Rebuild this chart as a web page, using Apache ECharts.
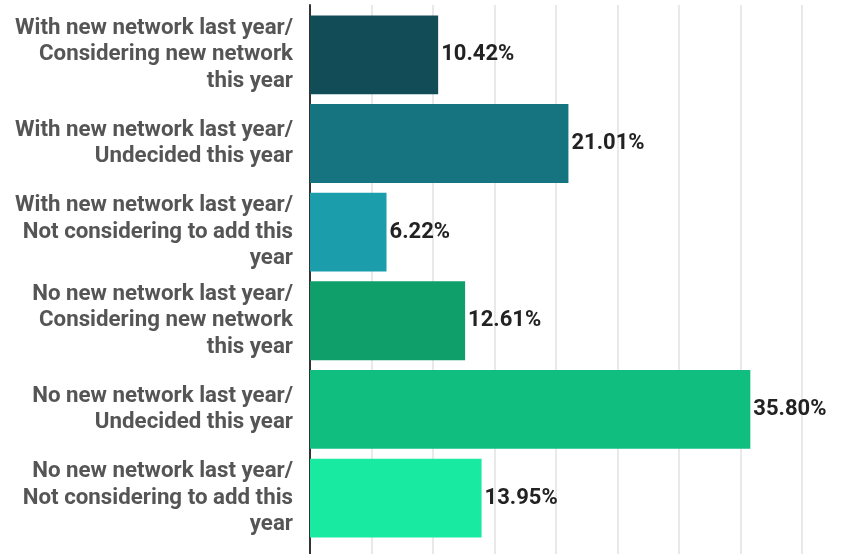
<!DOCTYPE html>
<html>
<head>
<meta charset="utf-8">
<script src="https://cdn.jsdelivr.net/npm/echarts@6/dist/echarts.min.js"></script>
<style>
  html, body { margin: 0; padding: 0; background: #fff; }
  #chart { width: 862px; height: 554px; }
</style>
</head>
<body>
<div id="chart"></div>
<script>
// Survey groups, listed top to bottom
const categories = [
  'With new network last year/\nConsidering new network\nthis year',
  'With new network last year/\nUndecided this year',
  'With new network last year/\nNot considering to add this\nyear',
  'No new network last year/\nConsidering new network\nthis year',
  'No new network last year/\nUndecided this year',
  'No new network last year/\nNot considering to add this\nyear'
];
// Share of respondents (%)
const shares = [10.42, 21.01, 6.22, 12.61, 35.80, 13.95];
const barColors = ['#124c56', '#15747f', '#1b9dab', '#0f9f6b', '#10bf7f', '#18eaa1'];
const axisMax = 40;
const axisStep = 5;

const chart = echarts.init(document.getElementById('chart'), null, { renderer: 'canvas' });

chart.setOption({
  animation: false,
  grid: [
    // bars
    { left: 310, right: 60, top: 10.5, bottom: 11.6 },
    // full-height frame for the gridlines and left axis line
    { left: 310, right: 60, top: 5, bottom: -2 }
  ],
  xAxis: [
    {
      gridIndex: 0, type: 'value', min: 0, max: axisMax, interval: axisStep,
      axisLine: { show: false }, axisTick: { show: false },
      axisLabel: { show: false }, splitLine: { show: false }
    },
    {
      gridIndex: 1, type: 'value', min: 0, max: axisMax, interval: axisStep,
      axisLine: { show: false }, axisTick: { show: false },
      axisLabel: { show: false },
      splitLine: { show: true, lineStyle: { color: '#e2e2e2', width: 1.5 } }
    }
  ],
  yAxis: [
    {
      gridIndex: 0, type: 'category', data: categories, inverse: true,
      axisLine: { show: false }, axisTick: { show: false },
      axisLabel: {
        margin: 17, color: '#555', fontFamily: 'Roboto', fontWeight: 'bold',
        fontSize: 22.3, lineHeight: 26.5, align: 'right'
      }
    },
    {
      gridIndex: 1, type: 'category', data: [''],
      axisLine: { show: true, lineStyle: { color: '#333', width: 2 } },
      axisTick: { show: false }, axisLabel: { show: false }
    }
  ],
  series: [{
    type: 'bar',
    xAxisIndex: 0, yAxisIndex: 0,
    data: shares.map((v, i) => ({ value: v, itemStyle: { color: barColors[i] } })),
    barCategoryGap: '11%',
    label: {
      show: true, position: 'right', distance: 3,
      formatter: p => p.value.toFixed(2) + '%',
      color: '#222', fontFamily: 'Roboto', fontWeight: 'bold', fontSize: 22
    }
  }]
});
</script>
</body>
</html>
